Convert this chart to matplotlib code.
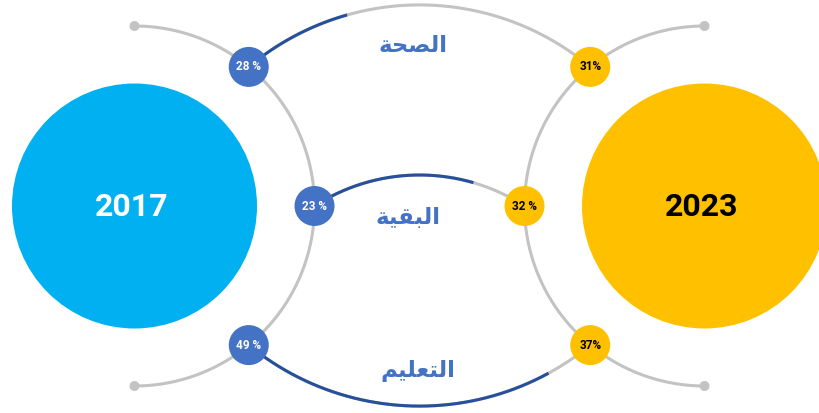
import numpy as np
import matplotlib
matplotlib.use("Agg")
import matplotlib.pyplot as plt
from matplotlib.patches import Circle

# ---------------- data ----------------
years = ["2017", "2023"]
categories = ["الصحة", "البقية", "التعليم"]
share_2017 = [28, 23, 49]
share_2023 = [31, 32, 37]
labels_2017 = ["28 %", "23 %", "49 %"]
labels_2023 = ["31%", "32 %", "37%"]
highlight_fraction = [0.30, 0.74, 0.86]   # dark-blue part of each connecting arc

# ---------------- simple Arabic shaping ----------------
FORMS = {  # iso, final, initial, medial
    "ا": ("\uFE8D", "\uFE8E", None, None),
    "ب": ("\uFE8F", "\uFE90", "\uFE91", "\uFE92"),
    "ة": ("\uFE93", "\uFE94", None, None),
    "ت": ("\uFE95", "\uFE96", "\uFE97", "\uFE98"),
    "ح": ("\uFEA1", "\uFEA2", "\uFEA3", "\uFEA4"),
    "ص": ("\uFEB9", "\uFEBA", "\uFEBB", "\uFEBC"),
    "ع": ("\uFEC9", "\uFECA", "\uFECB", "\uFECC"),
    "ق": ("\uFED5", "\uFED6", "\uFED7", "\uFED8"),
    "ل": ("\uFEDD", "\uFEDE", "\uFEDF", "\uFEE0"),
    "م": ("\uFEE1", "\uFEE2", "\uFEE3", "\uFEE4"),
    "ي": ("\uFEF1", "\uFEF2", "\uFEF3", "\uFEF4"),
}


def shape(word):
    out = []
    n = len(word)
    for i, ch in enumerate(word):
        f = FORMS[ch]
        dual = f[2] is not None
        prev_joins = i > 0 and FORMS[word[i - 1]][2] is not None
        next_joins = dual and i < n - 1
        if prev_joins and next_joins:
            g = f[3]
        elif prev_joins:
            g = f[1]
        elif next_joins:
            g = f[2]
        else:
            g = f[0]
        out.append(g)
    return "".join(reversed(out))


# ---------------- figure ----------------
W, H = 819, 413
fig = plt.figure(figsize=(W / 100, H / 100), dpi=100)
ax = fig.add_axes([0, 0, 1, 1])
ax.set_xlim(0, W)
ax.set_ylim(H, 0)
ax.axis("off")

GRAY = "#C3C3C3"
DARK = "#27509B"
BLUE = "#4472C4"
YEL = "#FFC000"
CYAN = "#00B0F0"

big_r = 122.5
ring_r = 180
centers = [(134.5, 206), (704.5, 206)]
node_ang = np.radians([50.6, 0, -50.6])
node_r = 20

# big circles + rings
for k, (cx, cy) in enumerate(centers):
    col = CYAN if k == 0 else YEL
    ax.add_patch(Circle((cx, cy), big_r, color=col, zorder=2, lw=0))
    ax.text(cx - 3, cy + 1, years[k], ha="center", va="center", fontsize=23,
            fontweight="bold", family="Roboto",
            color="white" if k == 0 else "black", zorder=5)
    sign = 1 if k == 0 else -1
    t = np.linspace(-np.pi / 2, np.pi / 2, 300)
    ax.plot(cx + sign * ring_r * np.cos(t), cy - ring_r * np.sin(t),
            color=GRAY, lw=2.2, zorder=1, solid_capstyle="round")
    for yy in (cy - ring_r, cy + ring_r):
        ax.add_patch(Circle((cx, yy), 5, color=GRAY, zorder=1, lw=0))

# node positions
left_nodes = [(centers[0][0] + ring_r * np.cos(a), centers[0][1] - ring_r * np.sin(a))
              for a in node_ang]
right_nodes = [(centers[1][0] - ring_r * np.cos(a), centers[1][1] - ring_r * np.sin(a))
               for a in node_ang]

# connecting arcs (sagitta; negative = bulge upward)
sagittas = [-62, -31, 61]


def arc_points(p0, p1, sag, n=400):
    (x0, y0), (x1, y1) = p0, p1
    mx, my = (x0 + x1) / 2, (y0 + y1) / 2
    half = abs(x1 - x0) / 2
    R = (half ** 2 + sag ** 2) / (2 * abs(sag))
    cy = my + sag - np.sign(sag) * R
    cx = mx
    a0 = np.arctan2(y0 - cy, x0 - cx)
    a1 = np.arctan2(y1 - cy, x1 - cx)
    if abs(a1 - a0) > np.pi:
        if a1 < a0:
            a1 += 2 * np.pi
        else:
            a0 += 2 * np.pi
    t = np.linspace(a0, a1, n)
    return cx + R * np.cos(t), cy + R * np.sin(t)


label_pos = [(413, 45), (408, 218), (418, 371)]
for i in range(3):
    xs, ys = arc_points(left_nodes[i], right_nodes[i], sagittas[i])
    ax.plot(xs, ys, color=GRAY, lw=2.2, zorder=1)
    m = int(len(xs) * highlight_fraction[i])
    ax.plot(xs[:m], ys[:m], color=DARK, lw=2.2, zorder=1.5)
    ax.text(label_pos[i][0], label_pos[i][1], shape(categories[i]), ha="center",
            va="center", fontsize=16.5, fontweight="bold", color=BLUE,
            family="DejaVu Sans", zorder=5)

# nodes
for i in range(3):
    x, y = left_nodes[i]
    ax.add_patch(Circle((x, y), node_r, color=BLUE, zorder=3, lw=0))
    ax.text(x, y, labels_2017[i], ha="center", va="center", fontsize=8.5,
            fontweight="bold", family="Roboto", color="white", zorder=5)
    x, y = right_nodes[i]
    ax.add_patch(Circle((x, y), node_r, color=YEL, zorder=3, lw=0))
    ax.text(x, y, labels_2023[i], ha="center", va="center", fontsize=8.5,
            fontweight="bold", family="Roboto", color="black", zorder=5)

fig.savefig("out.png", dpi=100)
